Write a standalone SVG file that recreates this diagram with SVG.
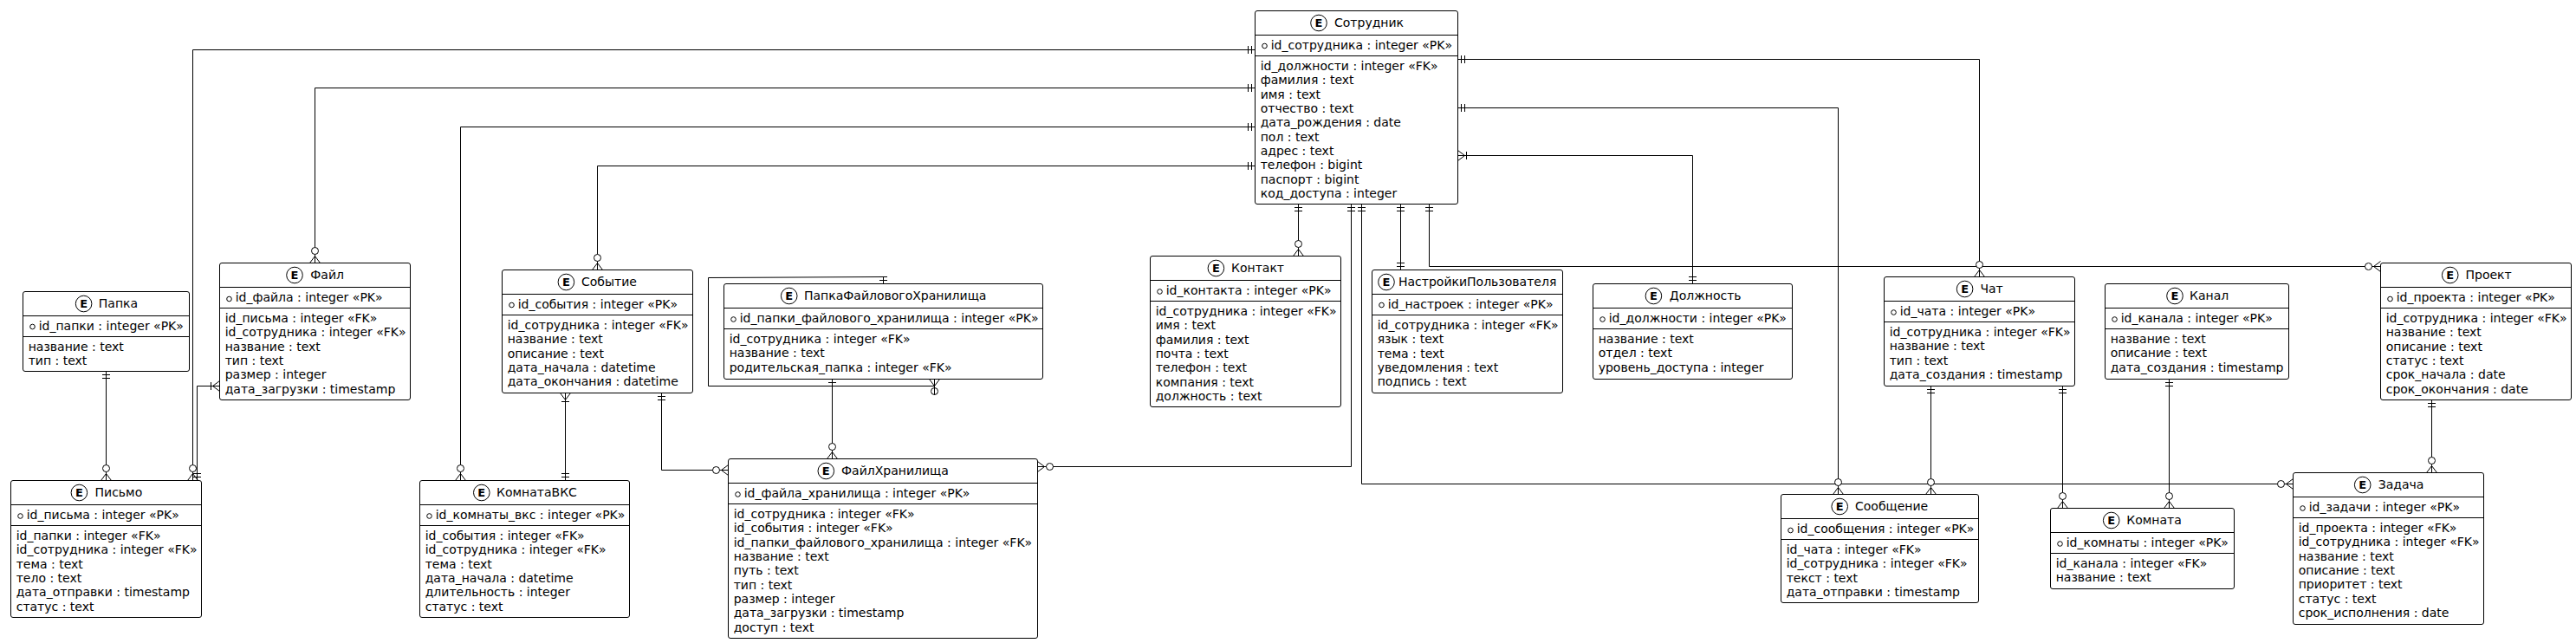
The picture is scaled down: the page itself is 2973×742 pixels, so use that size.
<svg xmlns="http://www.w3.org/2000/svg" width="2973" height="742" viewBox="0 0 2973 742">
<style>
text{font-family:"DejaVu Sans",sans-serif;font-size:14px;fill:#000}
.b{fill:#fff;stroke:#000;stroke-width:1}
.s{stroke:#000;stroke-width:1;fill:none}
.c{fill:#fff;stroke:#000;stroke-width:1}
.e{font-weight:bold;text-anchor:middle;font-size:13px}
.k{fill:#fff;stroke:#000;stroke-width:1}
.l{fill:none;stroke:#000;stroke-width:1}
.m{fill:#fff;stroke:#000;stroke-width:1}
</style>
<defs>
<g id="zm"><path class="l" d="M8 0L0-6M8 0L0 6M8 0L0 0"/><circle class="m" cx="14" cy="0" r="4"/></g>
<g id="one"><path class="l" d="M4-4.500V4.500M8-4.500V4.500"/></g>
<g id="om"><path class="l" d="M8 0L0-6M8 0L0 6M8 0L0 0M10-4.500V4.500"/></g>
</defs>
<rect width="2973" height="742" fill="#fff"/>
<g id="node-papka" transform="translate(26.5,336.5)"><rect class="b" width="192" height="92" rx="2.500"/><path class="s" d="M0 28H192M0 52H192"/><circle class="c" cx="70.100" cy="14" r="9.300"/><text class="e" x="70.100" y="18.700">E</text><text x="87.300" y="18.300">Папка</text><circle class="k" cx="11" cy="40.500" r="2.800"/><text x="18.200" y="44.300">id_папки : integer «PK»</text><text x="6.200" y="68.500">название : text</text><text x="6.200" y="84.800">тип : text</text></g>
<g id="node-fail" transform="translate(253.5,303.5)"><rect class="b" width="220" height="158" rx="2.500"/><path class="s" d="M0 28H220M0 52H220"/><circle class="c" cx="86.500" cy="14" r="9.300"/><text class="e" x="86.500" y="18.700">E</text><text x="104.800" y="18.300">Файл</text><circle class="k" cx="11" cy="41.500" r="2.800"/><text x="18.200" y="44.300">id_файла : integer «PK»</text><text x="6.200" y="68.500">id_письма : integer «FK»</text><text x="6.200" y="84.800">id_сотрудника : integer «FK»</text><text x="6.200" y="101.200">название : text</text><text x="6.200" y="117.500">тип : text</text><text x="6.200" y="133.800">размер : integer</text><text x="6.200" y="150.200">дата_загрузки : timestamp</text></g>
<g id="node-sobytie" transform="translate(579.5,311.5)"><rect class="b" width="220" height="142" rx="2.500"/><path class="s" d="M0 28H220M0 52H220"/><circle class="c" cx="73.900" cy="14" r="9.300"/><text class="e" x="73.900" y="18.700">E</text><text x="91.500" y="18.300">Событие</text><circle class="k" cx="11" cy="40.500" r="2.800"/><text x="18.200" y="44.300">id_события : integer «PK»</text><text x="6.200" y="68.500">id_сотрудника : integer «FK»</text><text x="6.200" y="84.800">название : text</text><text x="6.200" y="101.200">описание : text</text><text x="6.200" y="117.500">дата_начала : datetime</text><text x="6.200" y="133.800">дата_окончания : datetime</text></g>
<g id="node-pismo" transform="translate(12.5,554.5)"><rect class="b" width="220" height="158" rx="2.500"/><path class="s" d="M0 28H220M0 52H220"/><circle class="c" cx="78.900" cy="14" r="9.300"/><text class="e" x="78.900" y="18.700">E</text><text x="97" y="18.300">Письмо</text><circle class="k" cx="11" cy="41" r="2.800"/><text x="18.200" y="44.300">id_письма : integer «PK»</text><text x="6.200" y="68.500">id_папки : integer «FK»</text><text x="6.200" y="84.800">id_сотрудника : integer «FK»</text><text x="6.200" y="101.200">тема : text</text><text x="6.200" y="117.500">тело : text</text><text x="6.200" y="133.800">дата_отправки : timestamp</text><text x="6.200" y="150.200">статус : text</text></g>
<g id="node-komnatavks" transform="translate(484.5,554.5)"><rect class="b" width="242" height="158" rx="2.500"/><path class="s" d="M0 28H242M0 52H242"/><circle class="c" cx="71.300" cy="14" r="9.300"/><text class="e" x="71.300" y="18.700">E</text><text x="88.500" y="18.300">КомнатаВКС</text><circle class="k" cx="11" cy="41" r="2.800"/><text x="18.200" y="44.300">id_комнаты_вкс : integer «PK»</text><text x="6.200" y="68.500">id_события : integer «FK»</text><text x="6.200" y="84.800">id_сотрудника : integer «FK»</text><text x="6.200" y="101.200">тема : text</text><text x="6.200" y="117.500">дата_начала : datetime</text><text x="6.200" y="133.800">длительность : integer</text><text x="6.200" y="150.200">статус : text</text></g>
<g id="node-papkafh" transform="translate(835.5,327.5)"><rect class="b" width="368" height="110" rx="2.500"/><path class="s" d="M0 28H368M0 52H368"/><circle class="c" cx="75.200" cy="14" r="9.300"/><text class="e" x="75.200" y="18.700">E</text><text x="92.500" y="18.300">ПапкаФайловогоХранилища</text><circle class="k" cx="11" cy="41" r="2.800"/><text x="18.200" y="44.300">id_папки_файлового_хранилища : integer «PK»</text><text x="6.200" y="68.500">id_сотрудника : integer «FK»</text><text x="6.200" y="84.800">название : text</text><text x="6.200" y="101.200">родительская_папка : integer «FK»</text></g>
<g id="node-failhran" transform="translate(840.5,529.5)"><rect class="b" width="357" height="207" rx="2.500"/><path class="s" d="M0 28H357M0 52H357"/><circle class="c" cx="112.800" cy="14" r="9.300"/><text class="e" x="112.800" y="18.700">E</text><text x="130.500" y="18.300">ФайлХранилища</text><circle class="k" cx="11" cy="41" r="2.800"/><text x="18.200" y="44.300">id_файла_хранилища : integer «PK»</text><text x="6.200" y="68.500">id_сотрудника : integer «FK»</text><text x="6.200" y="84.800">id_события : integer «FK»</text><text x="6.200" y="101.200">id_папки_файлового_хранилища : integer «FK»</text><text x="6.200" y="117.500">название : text</text><text x="6.200" y="133.800">путь : text</text><text x="6.200" y="150.200">тип : text</text><text x="6.200" y="166.500">размер : integer</text><text x="6.200" y="182.800">дата_загрузки : timestamp</text><text x="6.200" y="199.200">доступ : text</text></g>
<g id="node-sotrudnik" transform="translate(1448.5,12.500)"><rect class="b" width="234" height="223" rx="2.500"/><path class="s" d="M0 28H234M0 52H234"/><circle class="c" cx="73.500" cy="14" r="9.300"/><text class="e" x="73.500" y="18.700">E</text><text x="91.500" y="18.300">Сотрудник</text><circle class="k" cx="11" cy="40.500" r="2.800"/><text x="18.200" y="44.300">id_сотрудника : integer «PK»</text><text x="6.200" y="68.500">id_должности : integer «FK»</text><text x="6.200" y="84.800">фамилия : text</text><text x="6.200" y="101.200">имя : text</text><text x="6.200" y="117.500">отчество : text</text><text x="6.200" y="133.800">дата_рождения : date</text><text x="6.200" y="150.200">пол : text</text><text x="6.200" y="166.500">адрес : text</text><text x="6.200" y="182.800">телефон : bigint</text><text x="6.200" y="199.200">паспорт : bigint</text><text x="6.200" y="215.500">код_доступа : integer</text></g>
<g id="node-kontakt" transform="translate(1327.5,295.5)"><rect class="b" width="220" height="174" rx="2.500"/><path class="s" d="M0 28H220M0 52H220"/><circle class="c" cx="75.900" cy="14" r="9.300"/><text class="e" x="75.900" y="18.700">E</text><text x="93.500" y="18.300">Контакт</text><circle class="k" cx="11" cy="41" r="2.800"/><text x="18.200" y="44.300">id_контакта : integer «PK»</text><text x="6.200" y="68.500">id_сотрудника : integer «FK»</text><text x="6.200" y="84.800">имя : text</text><text x="6.200" y="101.200">фамилия : text</text><text x="6.200" y="117.500">почта : text</text><text x="6.200" y="133.800">телефон : text</text><text x="6.200" y="150.200">компания : text</text><text x="6.200" y="166.500">должность : text</text></g>
<g id="node-nastroiki" transform="translate(1583.5,311.5)"><rect class="b" width="220" height="142" rx="2.500"/><path class="s" d="M0 28H220M0 52H220"/><circle class="c" cx="16.500" cy="14" r="9.300"/><text class="e" x="16.500" y="18.700">E</text><text x="30.500" y="18.300">НастройкиПользователя</text><circle class="k" cx="11" cy="40.500" r="2.800"/><text x="18.200" y="44.300">id_настроек : integer «PK»</text><text x="6.200" y="68.500">id_сотрудника : integer «FK»</text><text x="6.200" y="84.800">язык : text</text><text x="6.200" y="101.200">тема : text</text><text x="6.200" y="117.500">уведомления : text</text><text x="6.200" y="133.800">подпись : text</text></g>
<g id="node-dolzhnost" transform="translate(1838.5,327.5)"><rect class="b" width="230" height="110" rx="2.500"/><path class="s" d="M0 28H230M0 52H230"/><circle class="c" cx="69.900" cy="14" r="9.300"/><text class="e" x="69.900" y="18.700">E</text><text x="88.200" y="18.300">Должность</text><circle class="k" cx="11" cy="41" r="2.800"/><text x="18.200" y="44.300">id_должности : integer «PK»</text><text x="6.200" y="68.500">название : text</text><text x="6.200" y="84.800">отдел : text</text><text x="6.200" y="101.200">уровень_доступа : integer</text></g>
<g id="node-chat" transform="translate(2174.5,319.5)"><rect class="b" width="220" height="126" rx="2.500"/><path class="s" d="M0 28H220M0 52H220"/><circle class="c" cx="93.100" cy="14" r="9.300"/><text class="e" x="93.100" y="18.700">E</text><text x="110.900" y="18.300">Чат</text><circle class="k" cx="11" cy="41" r="2.800"/><text x="18.200" y="44.300">id_чата : integer «PK»</text><text x="6.200" y="68.500">id_сотрудника : integer «FK»</text><text x="6.200" y="84.800">название : text</text><text x="6.200" y="101.200">тип : text</text><text x="6.200" y="117.500">дата_создания : timestamp</text></g>
<g id="node-kanal" transform="translate(2429.5,327.5)"><rect class="b" width="212" height="110" rx="2.500"/><path class="s" d="M0 28H212M0 52H212"/><circle class="c" cx="80.500" cy="14" r="9.300"/><text class="e" x="80.500" y="18.700">E</text><text x="97.500" y="18.300">Канал</text><circle class="k" cx="11" cy="41" r="2.800"/><text x="18.200" y="44.300">id_канала : integer «PK»</text><text x="6.200" y="68.500">название : text</text><text x="6.200" y="84.800">описание : text</text><text x="6.200" y="101.200">дата_создания : timestamp</text></g>
<g id="node-proekt" transform="translate(2747.5,303.5)"><rect class="b" width="220" height="158" rx="2.500"/><path class="s" d="M0 28H220M0 52H220"/><circle class="c" cx="80.200" cy="14" r="9.300"/><text class="e" x="80.200" y="18.700">E</text><text x="98" y="18.300">Проект</text><circle class="k" cx="11" cy="41.500" r="2.800"/><text x="18.200" y="44.300">id_проекта : integer «PK»</text><text x="6.200" y="68.500">id_сотрудника : integer «FK»</text><text x="6.200" y="84.800">название : text</text><text x="6.200" y="101.200">описание : text</text><text x="6.200" y="117.500">статус : text</text><text x="6.200" y="133.800">срок_начала : date</text><text x="6.200" y="150.200">срок_окончания : date</text></g>
<g id="node-soobshenie" transform="translate(2055.5,570.5)"><rect class="b" width="228" height="125" rx="2.500"/><path class="s" d="M0 28H228M0 52H228"/><circle class="c" cx="67.700" cy="14" r="9.300"/><text class="e" x="67.700" y="18.700">E</text><text x="85.500" y="18.300">Сообщение</text><circle class="k" cx="11" cy="41.500" r="2.800"/><text x="18.200" y="44.300">id_сообщения : integer «PK»</text><text x="6.200" y="68.500">id_чата : integer «FK»</text><text x="6.200" y="84.800">id_сотрудника : integer «FK»</text><text x="6.200" y="101.200">текст : text</text><text x="6.200" y="117.500">дата_отправки : timestamp</text></g>
<g id="node-komnata" transform="translate(2366.5,586.5)"><rect class="b" width="212" height="93" rx="2.500"/><path class="s" d="M0 28H212M0 52H212"/><circle class="c" cx="70.200" cy="14" r="9.300"/><text class="e" x="70.200" y="18.700">E</text><text x="87.700" y="18.300">Комната</text><circle class="k" cx="11" cy="41" r="2.800"/><text x="18.200" y="44.300">id_комнаты : integer «PK»</text><text x="6.200" y="68.500">id_канала : integer «FK»</text><text x="6.200" y="84.800">название : text</text></g>
<g id="node-zadacha" transform="translate(2646.5,545.5)"><rect class="b" width="220" height="175" rx="2.500"/><path class="s" d="M0 28H220M0 52H220"/><circle class="c" cx="80.200" cy="14" r="9.300"/><text class="e" x="80.200" y="18.700">E</text><text x="98.200" y="18.300">Задача</text><circle class="k" cx="11" cy="41" r="2.800"/><text x="18.200" y="44.300">id_задачи : integer «PK»</text><text x="6.200" y="68.500">id_проекта : integer «FK»</text><text x="6.200" y="84.800">id_сотрудника : integer «FK»</text><text x="6.200" y="101.200">название : text</text><text x="6.200" y="117.500">описание : text</text><text x="6.200" y="133.800">приоритет : text</text><text x="6.200" y="150.200">статус : text</text><text x="6.200" y="166.500">срок_исполнения : date</text></g>
<g id="connectors">
<path class="l" d="M1448.500 57.500H222.500V554.500"/>
<path class="l" d="M1448.500 101.500H363.500V303.500"/>
<path class="l" d="M1448.500 146.500H531.500V554.500"/>
<path class="l" d="M1448.500 191.500H689.500V311.500"/>
<path class="l" d="M122.500 428.500V554.500"/>
<path class="l" d="M227.500 554.500V445.500H253.500"/>
<path class="l" d="M652.500 453.500V554.500"/>
<path class="l" d="M763.500 453.500V542.500H840.500"/>
<path class="l" d="M1019.500 327.500V319.500L817.500 320.500V445.500H1078.500V437.500"/>
<path class="l" d="M960.500 437.500V529.500"/>
<path class="l" d="M1559.500 235.500V538.500H1197.500"/>
<path class="l" d="M1498.500 235.500V295.500"/>
<path class="l" d="M1571.500 235.500V558.500H2646.500"/>
<path class="l" d="M1616.500 235.500V311.500"/>
<path class="l" d="M1649.500 235.500V307.500H2747.500"/>
<path class="l" d="M1682.500 68.500H2284.500V319.500"/>
<path class="l" d="M1682.500 124.500H2121.500V570.500"/>
<path class="l" d="M1682.500 179.500H1953.500V327.500"/>
<path class="l" d="M2228.500 445.500V570.500"/>
<path class="l" d="M2380.500 445.500V586.500"/>
<path class="l" d="M2503.500 437.500V586.500"/>
<path class="l" d="M2806.500 461.500V545.500"/>
<use href="#one" transform="translate(1448.5,57.5) rotate(180)"/><use href="#zm" transform="translate(222.5,554.5) rotate(-90)"/>
<use href="#one" transform="translate(1448.5,101.5) rotate(180)"/><use href="#zm" transform="translate(363.5,303.5) rotate(-90)"/>
<use href="#one" transform="translate(1448.5,146.5) rotate(180)"/><use href="#zm" transform="translate(531.5,554.5) rotate(-90)"/>
<use href="#one" transform="translate(1448.5,191.5) rotate(180)"/><use href="#zm" transform="translate(689.5,311.5) rotate(-90)"/>
<use href="#one" transform="translate(122.5,428.5) rotate(90)"/><use href="#zm" transform="translate(122.5,554.5) rotate(-90)"/>
<use href="#one" transform="translate(227.5,554.5) rotate(-90)"/><use href="#om" transform="translate(253.5,445.5) rotate(180)"/>
<use href="#om" transform="translate(652.5,453.5) rotate(90)"/><use href="#one" transform="translate(652.5,554.5) rotate(-90)"/>
<use href="#one" transform="translate(763.5,453.5) rotate(90)"/><use href="#zm" transform="translate(840.5,542.5) rotate(180)"/>
<use href="#one" transform="translate(1019.5,327.5) rotate(-90)"/><use href="#zm" transform="translate(1078.5,437.5) rotate(90)"/><path class="l" d="M1078.500 445.500V455.700"/>
<use href="#one" transform="translate(960.5,437.5) rotate(90)"/><use href="#zm" transform="translate(960.5,529.5) rotate(-90)"/>
<use href="#one" transform="translate(1559.5,235.5) rotate(90)"/><use href="#zm" transform="translate(1197.5,538.5)"/>
<use href="#one" transform="translate(1498.5,235.5) rotate(90)"/><use href="#zm" transform="translate(1498.5,295.5) rotate(-90)"/>
<use href="#one" transform="translate(1571.5,235.5) rotate(90)"/><use href="#zm" transform="translate(2646.5,558.5) rotate(180)"/>
<use href="#one" transform="translate(1616.5,235.5) rotate(90)"/><use href="#one" transform="translate(1616.5,311.5) rotate(-90)"/>
<use href="#one" transform="translate(1649.5,235.5) rotate(90)"/><use href="#zm" transform="translate(2747.5,307.5) rotate(180)"/>
<use href="#one" transform="translate(1682.5,68.5)"/><use href="#zm" transform="translate(2284.5,319.5) rotate(-90)"/>
<use href="#one" transform="translate(1682.5,124.5)"/><use href="#zm" transform="translate(2121.5,570.5) rotate(-90)"/>
<use href="#om" transform="translate(1682.5,179.5)"/><use href="#one" transform="translate(1953.5,327.5) rotate(-90)"/>
<use href="#one" transform="translate(2228.5,445.5) rotate(90)"/><use href="#zm" transform="translate(2228.5,570.5) rotate(-90)"/>
<use href="#one" transform="translate(2380.5,445.5) rotate(90)"/><use href="#zm" transform="translate(2380.5,586.5) rotate(-90)"/>
<use href="#one" transform="translate(2503.5,437.5) rotate(90)"/><use href="#zm" transform="translate(2503.5,586.5) rotate(-90)"/>
<use href="#one" transform="translate(2806.5,461.5) rotate(90)"/><use href="#zm" transform="translate(2806.5,545.5) rotate(-90)"/>
</g>
</svg>
